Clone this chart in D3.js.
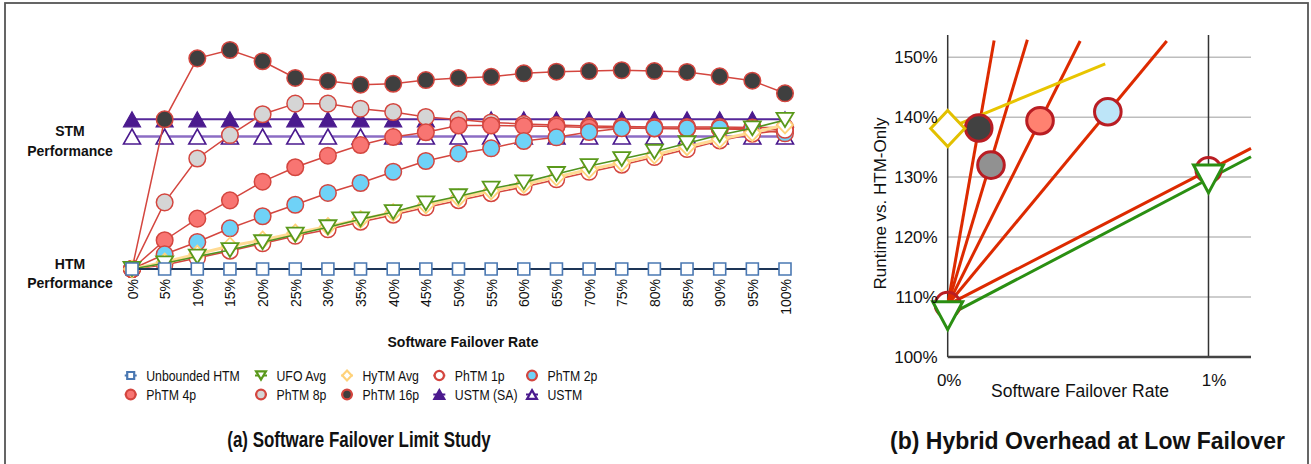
<!DOCTYPE html>
<html>
<head>
<meta charset="utf-8">
<script src="https://cdn.jsdelivr.net/npm/d3@7"></script>
<style>
  body { margin: 0; background: #fff; }
  svg text { font-family: "Liberation Sans", Arial, Helvetica, sans-serif; fill: #111; }
</style>
</head>
<body>
<svg id="svg" width="1311" height="464"></svg>
<script>
// ---- panel (a): performance between HTM (0) and STM (1) ----
const failoverRates = ["0%", "5%", "10%", "15%", "20%", "25%", "30%", "35%", "40%", "45%", "50%",
  "55%", "60%", "65%", "70%", "75%", "80%", "85%", "90%", "95%", "100%"];
const perfTicks = [0, 1];
const perfTickLabels = [["HTM", "Performance"], ["STM", "Performance"]];

const unboundedHTM = [0, 0, 0, 0, 0, 0, 0, 0, 0, 0, 0, 0, 0, 0, 0, 0, 0, 0, 0, 0, 0];
const ufoAvg = [0, 0.043, 0.094, 0.143, 0.202, 0.259, 0.315, 0.375, 0.430, 0.496, 0.549,
  0.606, 0.654, 0.717, 0.777, 0.830, 0.885, 0.949, 1.011, 1.062, 1.125];
const hytmAvg = [0, 0.053, 0.113, 0.174, 0.219, 0.272, 0.321, 0.374, 0.426, 0.483, 0.536,
  0.589, 0.638, 0.694, 0.751, 0.802, 0.860, 0.923, 0.979, 1.029, 1.087];
const phtm1p = [0, 0.030, 0.083, 0.136, 0.192, 0.249, 0.298, 0.355, 0.408, 0.464, 0.517,
  0.570, 0.619, 0.675, 0.732, 0.785, 0.843, 0.903, 0.968, 1.019, 1.049];
const phtm2p = [0, 0.111, 0.204, 0.307, 0.398, 0.485, 0.574, 0.649, 0.734, 0.815, 0.872,
  0.911, 0.966, 0.994, 1.034, 1.062, 1.062, 1.062, 1.062, 1.057, 1.024];
const phtm4p = [0, 0.217, 0.380, 0.518, 0.659, 0.768, 0.855, 0.936, 0.996, 1.032, 1.083,
  1.083, 1.079, 1.075, 1.068, 1.064, 1.060, 1.057, 1.057, 1.053, 1.053];
const phtm8p = [0, 0.503, 0.834, 1.011, 1.168, 1.248, 1.248, 1.210, 1.185, 1.147, 1.128,
  1.106, 1.094, 1.087, 1.079, 1.075, 1.072, 1.072, 1.072, 1.068, 1.068];
const phtm16p = [0, 1.130, 1.590, 1.653, 1.568, 1.442, 1.419, 1.391, 1.398, 1.426, 1.442,
  1.451, 1.477, 1.489, 1.494, 1.500, 1.494, 1.487, 1.454, 1.421, 1.326];
const ustmSA = [1.13, 1.13, 1.13, 1.13, 1.13, 1.13, 1.13, 1.13, 1.13, 1.13, 1.13,
  1.13, 1.13, 1.13, 1.13, 1.13, 1.13, 1.13, 1.13, 1.13, 1.13];
const ustm = [1, 1, 1, 1, 1, 1, 1, 1, 1, 1, 1, 1, 1, 1, 1, 1, 1, 1, 1, 1, 1];

// ---- panel (b): runtime vs HTM-only (%) at low failover rate (%) ----
const rateTicksB = [0, 1];
const runtimeTicksB = [100, 110, 120, 130, 140, 150];
const hytmB = { marks: [[0, 138.1]], line: [[0, 138.1], [0.604, 148.9]] };
const phtm16B = { marks: [[0.119, 138.2]], line: [[0, 108.7], [0.178, 152.8]] };
const phtm8B = { marks: [[0.166, 132.0]], line: [[0, 108.7], [0.3055, 152.9]] };
const phtm4B = { marks: [[0.354, 139.4]], line: [[0, 108.7], [0.508, 152.7]] };
const phtm2B = { marks: [[0.614, 140.9]], line: [[0, 108.7], [0.84, 152.7]] };
const phtm1B = { marks: [[0, 108.7], [1, 131.2]], line: [[0, 108.7], [1.163, 134.8]] };
const ufoB = { marks: [[0, 106.9], [1, 129.7]], line: [[0, 106.9], [1.163, 133.4]] };

const svg = d3.select('#svg');

// marker shapes centred on their bounding box
function shapePath(shape, w, h) {
  h = h || w;
  const a = w / 2, b = h / 2;
  switch (shape) {
    case 'square': return `M${-a},${-b}H${a}V${b}H${-a}Z`;
    case 'circle': return d3.symbol(d3.symbolCircle, Math.PI * a * a)();
    case 'diamond': return `M0,${-b}L${a},0L0,${b}L${-a},0Z`;
    case 'triUp': return `M0,${-b}L${a},${b}L${-a},${b}Z`;
    case 'triDown': return `M${-a},${-b}L${a},${-b}L0,${b}Z`;
  }
}

svg.append('rect')
  .attr('x', 5).attr('y', 3).attr('width', 1303).attr('height', 475)
  .attr('fill', 'none').attr('stroke', '#555').attr('stroke-width', 1.8);

// ================= panel (a) =================
const xA = d3.scalePoint().domain(failoverRates).range([132, 785]);
const yA = d3.scaleLinear().domain([0, 1]).range([269, 136.5]);

const red = '#d4463f';
const seriesA = [
  {name: 'Unbounded HTM', values: unboundedHTM, shape: 'square', w: 12, fill: '#fff', stroke: '#4a78b2', sw: 1.6, line: '#1d3557', lw: 2},
  {name: 'UFO Avg', values: ufoAvg, shape: 'triDown', w: 17, h: 14, fill: '#fff', stroke: '#5a991b', sw: 1.8, line: '#4f931f', lw: 1.6},
  {name: 'HyTM Avg', values: hytmAvg, shape: 'diamond', w: 16, h: 17, fill: '#fff', stroke: '#ffd27a', sw: 1.8, line: '#ffdb95', lw: 3},
  {name: 'PhTM 1p', values: phtm1p, shape: 'circle', w: 16, fill: '#fff', stroke: red, sw: 1.5, line: red, lw: 1.5},
  {name: 'PhTM 2p', values: phtm2p, shape: 'circle', w: 16.6, fill: '#6fd2f7', stroke: red, sw: 1.5, line: red, lw: 1.5},
  {name: 'PhTM 4p', values: phtm4p, shape: 'circle', w: 16.6, fill: '#f87572', stroke: red, sw: 1.5, line: red, lw: 1.5},
  {name: 'PhTM 8p', values: phtm8p, shape: 'circle', w: 16.6, fill: '#d5d5d5', stroke: red, sw: 1.5, line: red, lw: 1.5},
  {name: 'PhTM 16p', values: phtm16p, shape: 'circle', w: 16.6, fill: '#3f3f3f', stroke: red, sw: 1.5, line: red, lw: 1.5},
  {name: 'USTM (SA)', values: ustmSA, shape: 'triUp', w: 17, h: 15, fill: '#4b1a8e', stroke: '#4b1a8e', sw: 1.2, line: '#56289a', lw: 2},
  {name: 'USTM', values: ustm, shape: 'triUp', w: 17, h: 15, fill: '#fff', stroke: '#4b1a8e', sw: 1.6, line: '#8c6cc4', lw: 2.4}
];

const lineA = d3.line()
  .x((d, i) => xA(failoverRates[i]))
  .y(d => yA(d));

const plotA = svg.append('g');
seriesA.slice().reverse().forEach(s => {
  const g = plotA.append('g');
  g.append('path')
    .attr('d', lineA(s.values))
    .attr('fill', 'none')
    .attr('stroke', s.line)
    .attr('stroke-width', s.lw);
  g.selectAll('.pt')
    .data(s.values)
    .enter()
    .append('path')
    .attr('class', 'pt')
    .attr('transform', (d, i) => `translate(${xA(failoverRates[i])},${yA(d)})`)
    .attr('d', shapePath(s.shape, s.w, s.h))
    .attr('fill', s.fill)
    .attr('stroke', s.stroke)
    .attr('stroke-width', s.sw);
});

// x axis labels (rotated)
const axisXA = svg.append('g')
  .attr('transform', 'translate(0,279)')
  .call(d3.axisBottom(xA).tickSize(0).tickPadding(0));
axisXA.select('.domain').remove();
axisXA.selectAll('text')
  .attr('transform', 'rotate(-90)')
  .attr('text-anchor', 'end')
  .attr('x', 0).attr('y', 0).attr('dy', '0.36em')
  .style('font-size', '14px')
  .style('font-family', '"Liberation Sans", Arial, sans-serif')
  .attr('fill', '#111');

// y axis labels (two-line)
const axisYA = svg.append('g')
  .attr('transform', 'translate(132,0)')
  .call(d3.axisLeft(yA).tickValues(perfTicks).tickSize(0).tickFormat(''));
axisYA.select('.domain').remove();
axisYA.selectAll('.tick text').each(function (d, i) {
  const t = d3.select(this)
    .attr('x', -62).attr('text-anchor', 'middle').attr('dy', null)
    .style('font-size', '14px').style('font-weight', 'bold')
    .style('font-family', '"Liberation Sans", Arial, sans-serif')
    .attr('fill', '#111');
  t.selectAll('tspan')
    .data(perfTickLabels[i])
    .enter()
    .append('tspan')
    .attr('x', -62)
    .attr('y', (l, j) => j === 0 ? -1 : 18.5)
    .text(l => l);
});

svg.append('text')
  .attr('x', 463).attr('y', 347)
  .attr('text-anchor', 'middle')
  .style('font-size', '14px').style('font-weight', 'bold')
  .text('Software Failover Rate');

// legend
const legCols = [130.7, 261, 347, 439.3, 532];
const legRows = [375.5, 394.5];
const legend = svg.append('g');
seriesA.forEach((s, i) => {
  const cx = legCols[i % 5], cy = legRows[Math.floor(i / 5)];
  const g = legend.append('g').attr('transform', `translate(${cx},${cy})`);
  g.append('line').attr('x1', -6).attr('x2', 6)
    .attr('stroke', s.shape === 'circle' ? s.stroke : s.stroke).attr('stroke-width', 2);
  g.append('path')
    .attr('d', shapePath(s.shape, s.w * 0.58, (s.h || s.w) * 0.58))
    .attr('fill', s.fill).attr('stroke', s.stroke).attr('stroke-width', 2.2);
  g.append('text')
    .attr('transform', `translate(${15.5},${5.5}) scale(0.82,1)`)
    .style('font-size', '15px')
    .text(s.name);
});

svg.append('text')
  .attr('transform', 'translate(359,447) scale(0.77,1)')
  .attr('text-anchor', 'middle')
  .style('font-size', '22px').style('font-weight', 'bold')
  .text('(a) Software Failover Limit Study');

// ================= panel (b) =================
const xB = d3.scaleLinear().domain([0, 1.163]).range([947.7, 1251]);
const yB = d3.scaleLinear().domain([100, 153.7]).range([357, 35]);

const plotB = svg.append('g');
plotB.selectAll('.grid')
  .data(runtimeTicksB.filter(d => d > 100))
  .enter()
  .append('line')
  .attr('x1', xB(0)).attr('x2', xB(1.163))
  .attr('y1', d => yB(d)).attr('y2', d => yB(d))
  .attr('stroke', '#bdbdbd').attr('stroke-width', 1.5);
plotB.selectAll('.vline')
  .data(rateTicksB)
  .enter()
  .append('line')
  .attr('x1', d => xB(d)).attr('x2', d => xB(d))
  .attr('y1', yB(153.7)).attr('y2', yB(100))
  .attr('stroke', '#333').attr('stroke-width', 1.5);
plotB.append('line')
  .attr('x1', xB(0)).attr('x2', xB(1.163))
  .attr('y1', yB(100)).attr('y2', yB(100))
  .attr('stroke', '#444').attr('stroke-width', 2.6);

const axisYB = svg.append('g')
  .attr('transform', `translate(${xB(0)},0)`)
  .call(d3.axisLeft(yB).tickValues(runtimeTicksB).tickSize(0).tickPadding(10).tickFormat(d => d + '%'));
axisYB.select('.domain').remove();
axisYB.selectAll('text')
  .style('font-size', '17px')
  .style('font-family', '"Liberation Sans", Arial, sans-serif')
  .attr('fill', '#1a1a1a');

const axisXB = svg.append('g')
  .attr('transform', `translate(0,${yB(100)})`)
  .call(d3.axisBottom(xB).tickValues(rateTicksB).tickSize(0).tickPadding(17).tickFormat(d => d + '%'));
axisXB.select('.domain').remove();
axisXB.selectAll('text')
  .attr('dx', (d, i) => i === 0 ? 1 : 5)
  .style('font-size', '17px')
  .style('font-family', '"Liberation Sans", Arial, sans-serif')
  .attr('fill', '#1a1a1a');

svg.append('text')
  .attr('x', 1080).attr('y', 397)
  .attr('text-anchor', 'middle')
  .style('font-size', '17.5px')
  .text('Software Failover Rate');

svg.append('text')
  .attr('transform', 'translate(886,203.5) rotate(-90)')
  .attr('text-anchor', 'middle')
  .style('font-size', '17px')
  .text('Runtime vs. HTM-Only');

const lineB = d3.line().x(d => xB(d[0])).y(d => yB(d[1]));
const markRed = '#b91d23';
const seriesB = [
  {data: phtm1B, color: '#dd2a00', shape: 'circle', w: 25, fill: 'none', stroke: markRed},
  {data: phtm2B, color: '#dd2a00', shape: 'circle', w: 26.6, fill: '#bde5f8', stroke: markRed},
  {data: phtm4B, color: '#dd2a00', shape: 'circle', w: 26.6, fill: '#ff8170', stroke: markRed},
  {data: phtm8B, color: '#dd2a00', shape: 'circle', w: 26.6, fill: '#919191', stroke: markRed},
  {data: phtm16B, color: '#dd2a00', shape: 'circle', w: 26.6, fill: '#414141', stroke: markRed},
  {data: hytmB, color: '#e8c500', shape: 'diamond', w: 34, h: 36, fill: '#fff', stroke: '#e2c000'},
  {data: ufoB, color: '#2a8f12', shape: 'triDown', w: 30, h: 28, fill: '#fff', stroke: '#2a8f12'}
];

seriesB.forEach(s => {
  plotB.append('path')
    .attr('d', lineB(s.data.line))
    .attr('fill', 'none')
    .attr('stroke', s.color)
    .attr('stroke-width', 3);
});
seriesB.forEach(s => {
  plotB.selectAll(null)
    .data(s.data.marks)
    .enter()
    .append('path')
    .attr('transform', d => `translate(${xB(d[0])},${yB(d[1])})`)
    .attr('d', shapePath(s.shape, s.w, s.h))
    .attr('fill', s.fill)
    .attr('stroke', s.stroke)
    .attr('stroke-width', 3);
});

svg.append('text')
  .attr('x', 1087.5).attr('y', 449)
  .attr('text-anchor', 'middle')
  .style('font-size', '23px').style('font-weight', 'bold')
  .text('(b) Hybrid Overhead at Low Failover');
</script>
</body>
</html>
